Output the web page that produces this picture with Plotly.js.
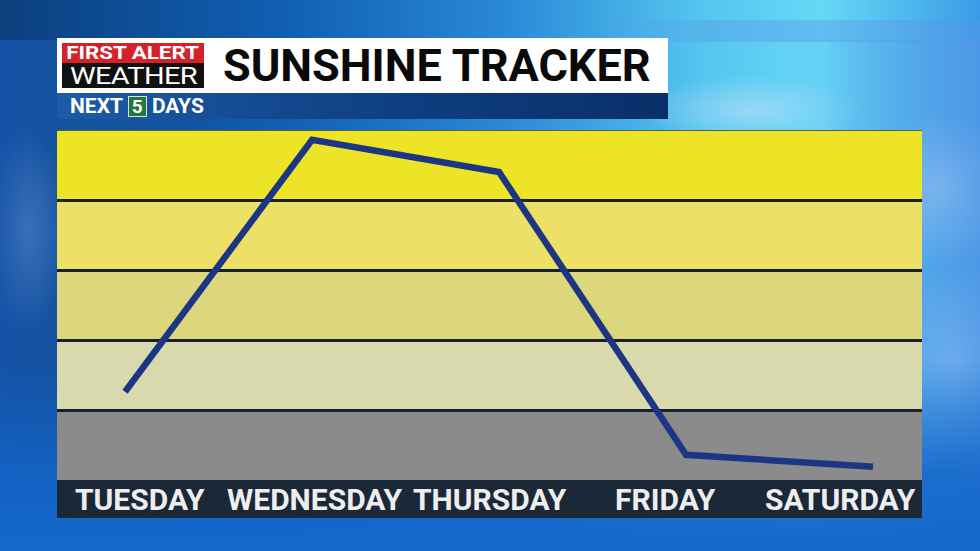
<!DOCTYPE html>
<html><head><meta charset="utf-8">
<script src="https://cdn.plot.ly/plotly-3.0.1.min.js"></script>
<style>
html,body{margin:0;padding:0;width:980px;height:551px;overflow:hidden;}
#bg{position:absolute;left:0;top:0;width:980px;height:551px;
background:
radial-gradient(ellipse 110px 110px at 940px 190px, rgba(225,238,255,0.5), rgba(225,238,255,0) 70%),
radial-gradient(ellipse 80px 140px at 955px 360px, rgba(215,232,255,0.4), rgba(215,232,255,0) 70%),
radial-gradient(ellipse 60px 150px at 25px 230px, rgba(200,222,250,0.45), rgba(200,222,250,0) 70%),
radial-gradient(ellipse 160px 50px at 750px 110px, rgba(200,225,250,0.55), rgba(200,225,250,0) 70%),
linear-gradient(90deg, #0b3f7e 0%, #1160b4 30%, #2a8ad8 52%, #55c6f0 72%, #66d8f6 84%, #3a9be6 100%);}
#strip{position:absolute;left:600px;top:20px;width:380px;height:22px;
background:linear-gradient(90deg, rgba(90,150,230,0) 0%, rgba(90,150,230,0.4) 30%, rgba(90,150,230,0.4) 100%);}
#bg2{position:absolute;left:0;top:40px;width:980px;height:511px;
background:linear-gradient(90deg, rgba(26,90,184,0.7) 0%, rgba(40,110,200,0.3) 8%, rgba(60,120,210,0) 20%, rgba(80,140,225,0) 80%, rgba(90,150,230,0.6) 100%);}
#bg3{position:absolute;left:0;top:360px;width:980px;height:191px;
background:linear-gradient(180deg, rgba(16,96,196,0) 0%, rgba(18,100,200,0.85) 60%, #1468cc 100%);}
#chart{position:absolute;left:0;top:0;width:980px;height:551px;}
.hdr{position:absolute;font-family:Roboto,sans-serif;font-weight:bold;white-space:nowrap;}
.sx{display:inline-block;transform-origin:center center;}
</style></head>
<body>
<div id="bg"></div><div id="strip"></div><div id="bg2"></div><div id="bg3"></div>
<div id="chart"></div>
<div class="hdr" style="left:57px;top:38px;width:611px;height:55px;background:#ffffff;"></div>
<div class="hdr" style="left:57px;top:93px;width:611px;height:26px;background:linear-gradient(90deg,#1d5ba8,#0e3f82 55%,#0a2f68);"></div>
<div class="hdr" style="left:62px;top:43px;width:142px;height:20px;background:#d52229;"></div>
<div class="hdr" style="left:62px;top:63px;width:142px;height:25px;background:#111;"></div>
<div class="hdr" style="left:62px;top:44px;width:142px;height:17px;color:#fff;font-size:18px;line-height:17px;text-align:center;"><span class="sx" style="transform:scaleX(1.24);">FIRST ALERT</span></div>
<div class="hdr" style="left:62px;top:66px;width:142px;height:22px;color:#fff;font-size:23px;line-height:22px;text-align:center;font-weight:normal;"><span class="sx" style="transform:scaleX(1.26);letter-spacing:-0.5px;">WEATHER</span></div>
<div class="hdr" style="left:223px;top:40px;height:52px;color:#0a0a0a;font-size:45px;line-height:52px;">SUNSHINE TRACKER</div>
<div class="hdr" style="left:70px;top:95px;height:22px;color:#fff;font-size:21px;line-height:22px;">NEXT <span style="display:inline-block;background:#1f7a3c;color:#fff;width:17px;text-align:center;border:1px solid #ddd;line-height:19px;font-size:19px;">5</span> DAYS</div>
<script>
var days = ["TUESDAY", "WEDNESDAY", "THURSDAY", "FRIDAY", "SATURDAY"];
var sunshine = [1.26, 4.86, 4.40, 0.36, 0.19];
var bandLevels = [0, 1, 2, 3, 4, 5];
var bandColors = ["#8b8b8b", "#d8d9ac", "#dcd67c", "#ece066", "#ede428"];

var W = 980, H = 551, L = 57, R = 58, T = 130, B = 71;
var plotW = W - L - R;
var xIdx = days.map(function(d, i){ return i; });

var shapes = [];
for (var i = 0; i < bandColors.length; i++) {
  shapes.push({type:"rect", xref:"paper", yref:"y", x0:0, x1:1, y0:bandLevels[i], y1:bandLevels[i+1],
    fillcolor:bandColors[i], line:{width:0}, layer:"below"});
}
shapes.push({type:"line", xref:"paper", yref:"y", x0:0, x1:1, y0:5, y1:5,
  line:{color:"#2a3340", width:1.5}, layer:"below"});
shapes.push({type:"rect", xref:"paper", yref:"paper", x0:0, x1:1, y0:-38/350, y1:0,
  fillcolor:"#1b2838", line:{width:0}, layer:"above"});

var annotations = days.map(function(d, i){
  var px = 140 + 175 * i;
  return {text:d, xref:"paper", yref:"paper", x:(px - L)/plotW, y:-19/350, showarrow:false,
    xanchor:"center", yanchor:"middle",
    font:{family:"Roboto, sans-serif", size:30, color:"#eeeeee", weight:"bold"}};
});

var trace = {x:xIdx, y:sunshine, type:"scatter", mode:"lines",
  line:{color:"#1c3684", width:6.5}, hoverinfo:"skip"};

var layout = {
  width:W, height:H, margin:{l:L, r:R, t:T, b:B},
  paper_bgcolor:"rgba(0,0,0,0)", plot_bgcolor:"rgba(0,0,0,0)",
  showlegend:false,
  xaxis:{range:[-0.364, 4.262], showgrid:false, zeroline:false, showticklabels:false, ticks:""},
  yaxis:{range:[0,5], tickvals:[1,2,3,4], showgrid:true, gridcolor:"#182030", gridwidth:3,
    zeroline:false, showticklabels:false, ticks:""},
  shapes:shapes, annotations:annotations
};
Plotly.newPlot("chart", [trace], layout, {staticPlot:true, displayModeBar:false});
</script>
</body></html>
